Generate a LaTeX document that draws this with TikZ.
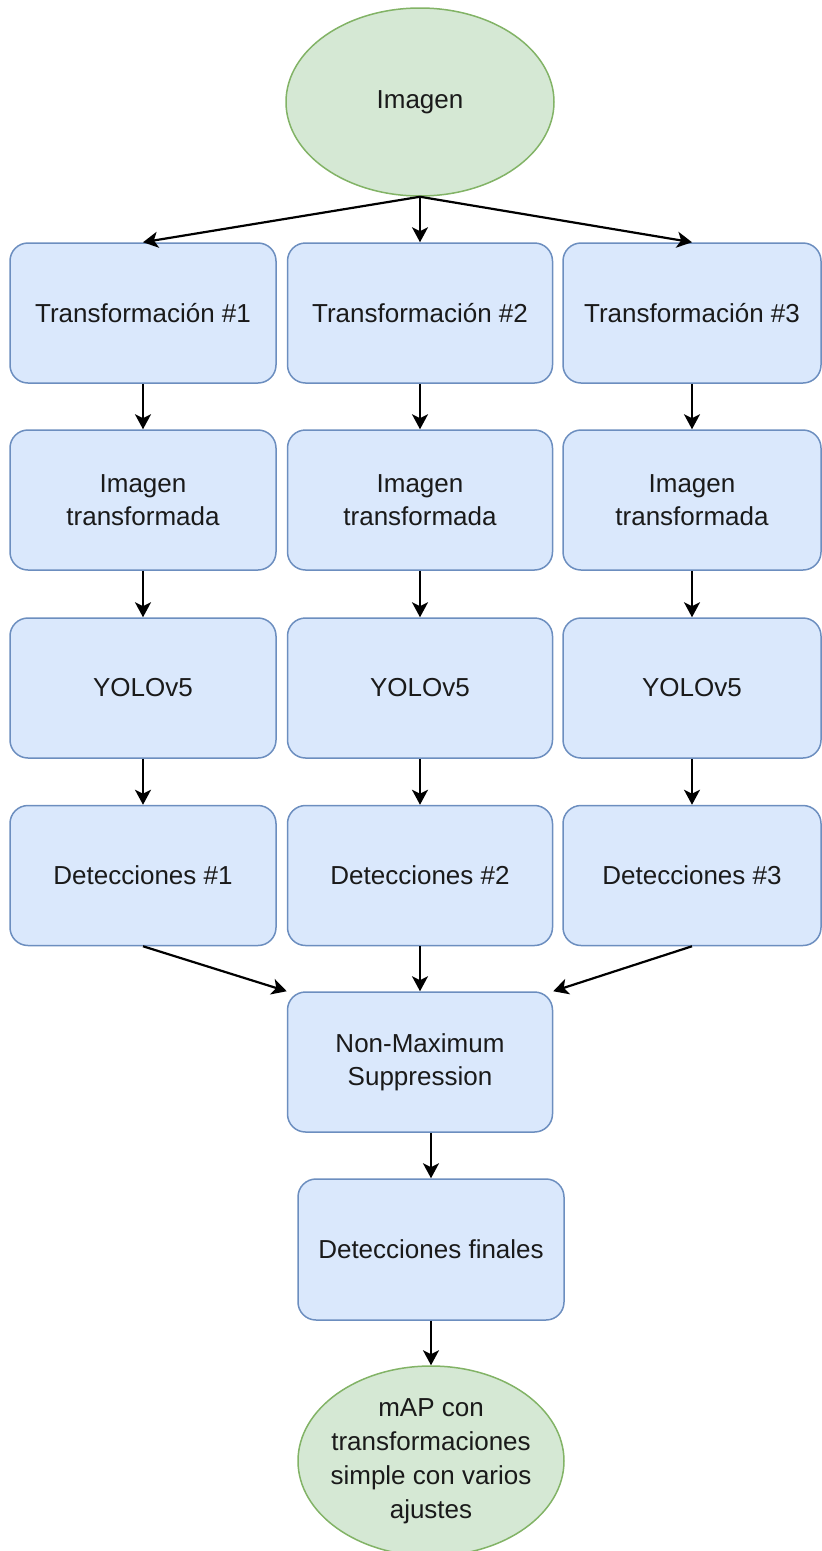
\documentclass[tikz,border=0pt]{standalone}
\usepackage{fontspec}
\setmainfont{Liberation Sans}
\usetikzlibrary{shapes.geometric,arrows.meta}
\definecolor{boxfill}{HTML}{DAE8FC}
\definecolor{boxline}{HTML}{6C8EBF}
\definecolor{ellfill}{HTML}{D5E8D4}
\definecolor{ellline}{HTML}{82B366}
\definecolor{txt}{HTML}{1A1A1A}
\tikzset{
  box/.style={draw=boxline, fill=boxfill, line width=1.5pt, rounded corners=18pt,
    minimum height=140pt, inner sep=0pt, align=center, text=txt,
    font=\fontsize{26pt}{33pt}\selectfont},
  ell/.style={ellipse, draw=ellline, fill=ellfill, line width=1.5pt, inner sep=0pt},
  elltext/.style={align=center, text=txt, inner sep=0pt, font=\fontsize{26pt}{34pt}\selectfont},
  arr/.style={line width=2.2pt, -{Stealth[length=15pt,width=16pt,inset=4pt]}}
}
\begin{document}
\begin{tikzpicture}[x=1pt,y=-1pt]
\useasboundingbox (0,0) rectangle (822,1551);
\begin{scope}
\clip (0,0) rectangle (822,1551);
\node[ell, minimum width=268pt, minimum height=188pt] (img) at (420,102) {};
\node[elltext] (imgt) at (img.center) {Imagen};

\node[box, minimum width=266pt] (t1) at (143,313) {Transformación \#1};
\node[box, minimum width=265pt] (t2) at (420,313) {Transformación \#2};
\node[box, minimum width=258pt] (t3) at (692,313) {Transformación \#3};

\node[box, minimum width=266pt] (i1) at (143,500) {Imagen\\transformada};
\node[box, minimum width=265pt] (i2) at (420,500) {Imagen\\transformada};
\node[box, minimum width=258pt] (i3) at (692,500) {Imagen\\transformada};

\node[box, minimum width=266pt] (y1) at (143,688) {YOLOv5};
\node[box, minimum width=265pt] (y2) at (420,688) {YOLOv5};
\node[box, minimum width=258pt] (y3) at (692,688) {YOLOv5};

\node[box, minimum width=266pt] (d1) at (143,875.5) {Detecciones \#1};
\node[box, minimum width=265pt] (d2) at (420,875.5) {Detecciones \#2};
\node[box, minimum width=258pt] (d3) at (692,875.5) {Detecciones \#3};

\node[box, minimum width=265pt] (nms) at (420,1062) {Non-Maximum\\Suppression};
\node[box, minimum width=266pt, minimum height=141pt] (fin) at (431,1249.5) {Detecciones finales};
\node[ell, minimum width=266pt, minimum height=190pt] (map) at (431,1461) {};
\node[elltext] (mapt) at (map.center) {mAP con\\transformaciones\\simple con varios\\ajustes};
\end{scope}

\draw[arr] (img.south) -- (t1.north);
\draw[arr] (img.south) -- (t2.north);
\draw[arr] (img.south) -- (t3.north);

\foreach \c in {1,2,3}{
  \draw[arr] (t\c.south) -- (i\c.north);
  \draw[arr] (i\c.south) -- (y\c.north);
  \draw[arr] (y\c.south) -- (d\c.north);
}

\draw[arr] (d1.south) -- (nms.north west);
\draw[arr] (d2.south) -- (nms.north);
\draw[arr] (d3.south) -- (nms.north east);

\draw[arr] (nms.south -| fin.north) -- (fin.north);
\draw[arr] (fin.south) -- (map.north);
\end{tikzpicture}
\end{document}
